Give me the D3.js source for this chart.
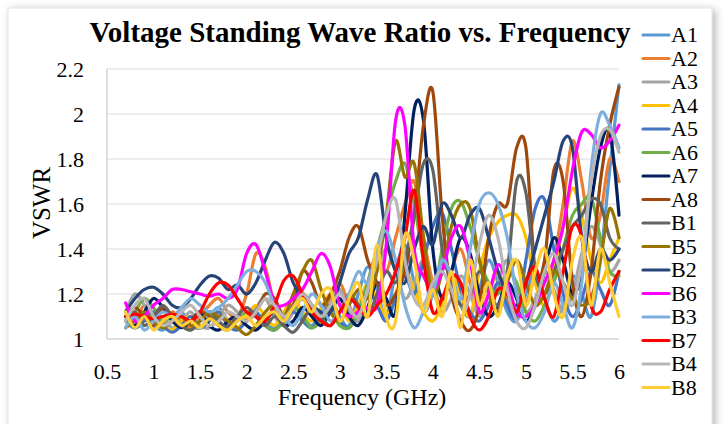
<!DOCTYPE html>
<html><head><meta charset="utf-8">
<script src="https://cdn.jsdelivr.net/npm/d3@7"></script>
<style>
body{margin:0;background:#fff}
svg{display:block}
svg text{font-family:"Liberation Serif","Times New Roman",serif !important;fill:#000}
</style></head>
<body><svg id="c" width="726" height="424"></svg>
<script>
const freq=[0.7,0.8,0.9,1.0,1.1,1.2,1.3,1.4,1.5,1.6,
1.7,1.8,1.9,2.0,2.1,2.2,2.3,2.4,2.5,2.6,
2.7,2.8,2.9,3.0,3.1,3.2,3.3,3.4,3.5,3.6,
3.7,3.8,3.9,4.0,4.1,4.2,4.3,4.4,4.5,4.6,
4.7,4.8,4.9,5.0,5.1,5.2,5.3,5.4,5.5,5.6,
5.7,5.8,5.9,6.0];

const A1=[1.08,1.05,1.10,1.06,1.04,1.08,1.12,1.06,1.05,1.10,
1.14,1.08,1.05,1.09,1.12,1.07,1.05,1.10,1.15,1.10,
1.06,1.12,1.18,1.10,1.06,1.20,1.32,1.22,1.10,1.30,
1.42,1.25,1.12,1.20,1.35,1.28,1.15,1.10,1.22,1.35,
1.25,1.12,1.08,1.20,1.30,1.18,1.08,1.15,1.28,1.20,
1.10,1.35,1.75,2.13];
const A2=[1.12,1.08,1.15,1.10,1.06,1.12,1.08,1.05,1.10,1.15,
1.18,1.12,1.10,1.20,1.38,1.32,1.15,1.08,1.12,1.20,
1.15,1.10,1.18,1.25,1.15,1.10,1.25,1.38,1.30,1.45,
1.60,1.70,1.45,1.25,1.15,1.30,1.40,1.25,1.12,1.20,
1.30,1.18,1.10,1.15,1.28,1.20,1.35,1.60,1.88,1.70,
1.45,1.55,1.80,1.70];
const A3=[1.12,1.20,1.15,1.06,1.10,1.05,1.08,1.12,1.06,1.05,
1.10,1.15,1.12,1.08,1.14,1.18,1.10,1.06,1.12,1.18,
1.12,1.08,1.16,1.22,1.12,1.08,1.20,1.30,1.40,1.30,
1.18,1.25,1.35,1.22,1.12,1.18,1.28,1.20,1.10,1.15,
1.25,1.35,1.22,1.12,1.18,1.30,1.22,1.12,1.20,1.38,
1.50,1.42,1.30,1.35];
const A4=[1.05,1.10,1.08,1.12,1.06,1.04,1.08,1.10,1.06,1.08,
1.12,1.08,1.05,1.10,1.15,1.10,1.06,1.12,1.18,1.12,
1.08,1.14,1.20,1.15,1.08,1.15,1.25,1.18,1.10,1.20,
1.30,1.22,1.12,1.08,1.15,1.28,1.20,1.10,1.30,1.45,
1.52,1.55,1.55,1.45,1.25,1.15,1.30,1.50,1.67,1.55,
1.35,1.25,1.35,1.45];
const A5=[1.10,1.05,1.08,1.12,1.06,1.03,1.06,1.10,1.05,1.08,
1.12,1.06,1.04,1.08,1.12,1.06,1.04,1.08,1.12,1.08,
1.05,1.10,1.15,1.08,1.05,1.12,1.22,1.15,1.08,1.18,
1.28,1.20,1.35,1.50,1.56,1.40,1.22,1.12,1.08,1.15,
1.25,1.15,1.10,1.35,1.58,1.62,1.40,1.20,1.10,1.18,
1.30,1.22,1.15,1.30];
const A6=[1.08,1.12,1.18,1.14,1.08,1.10,1.06,1.04,1.08,1.12,
1.06,1.04,1.08,1.12,1.10,1.06,1.04,1.08,1.14,1.10,
1.05,1.08,1.12,1.06,1.05,1.12,1.25,1.40,1.55,1.70,
1.78,1.60,1.35,1.20,1.40,1.58,1.61,1.50,1.35,1.25,
1.20,1.30,1.25,1.12,1.08,1.15,1.25,1.40,1.55,1.60,
1.63,1.45,1.30,1.28];
const A7=[1.10,1.06,1.12,1.18,1.14,1.08,1.05,1.08,1.12,1.06,
1.04,1.08,1.10,1.06,1.04,1.08,1.12,1.06,1.08,1.14,
1.10,1.06,1.12,1.18,1.10,1.06,1.14,1.25,1.18,1.12,
1.55,2.02,1.97,1.40,1.18,1.30,1.45,1.38,1.20,1.10,
1.15,1.25,1.18,1.08,1.15,1.30,1.45,1.35,1.20,1.30,
1.60,1.85,1.92,1.55];
const A8=[1.10,1.14,1.10,1.06,1.14,1.10,1.06,1.08,1.12,1.10,
1.06,1.05,1.10,1.08,1.12,1.20,1.18,1.10,1.15,1.30,
1.25,1.15,1.20,1.30,1.45,1.50,1.35,1.25,1.15,1.20,
1.30,1.55,1.95,2.10,1.55,1.20,1.08,1.04,1.15,1.45,
1.60,1.60,1.85,1.85,1.30,1.35,1.75,1.70,1.25,1.10,
1.30,1.70,1.95,2.12];
const B1=[1.08,1.12,1.06,1.10,1.15,1.10,1.06,1.04,1.08,1.12,
1.08,1.05,1.10,1.14,1.10,1.06,1.10,1.06,1.03,1.08,
1.14,1.10,1.06,1.12,1.20,1.15,1.10,1.20,1.30,1.25,
1.35,1.55,1.78,1.75,1.40,1.25,1.15,1.20,1.30,1.22,
1.15,1.30,1.70,1.65,1.30,1.20,1.30,1.40,1.50,1.55,
1.62,1.60,1.45,1.40];
const B5=[1.05,1.08,1.12,1.08,1.05,1.08,1.10,1.06,1.08,1.12,
1.10,1.08,1.05,1.02,1.06,1.12,1.15,1.10,1.20,1.30,
1.35,1.22,1.12,1.08,1.15,1.22,1.18,1.30,1.55,1.88,
1.72,1.78,1.45,1.20,1.30,1.50,1.60,1.58,1.35,1.20,
1.12,1.25,1.35,1.25,1.15,1.20,1.30,1.25,1.18,1.15,
1.18,1.35,1.58,1.45];
const B2=[1.12,1.18,1.22,1.23,1.20,1.15,1.14,1.18,1.24,1.28,
1.27,1.22,1.24,1.20,1.25,1.35,1.43,1.38,1.25,1.18,
1.15,1.12,1.12,1.25,1.38,1.45,1.62,1.73,1.45,1.30,
1.25,1.40,1.50,1.42,1.60,1.55,1.45,1.55,1.58,1.45,
1.30,1.20,1.15,1.25,1.40,1.55,1.70,1.88,1.85,1.45,
1.30,1.40,1.35,1.40];
const B6=[1.16,1.08,1.10,1.15,1.18,1.22,1.22,1.21,1.20,1.19,
1.20,1.18,1.22,1.38,1.42,1.30,1.16,1.15,1.18,1.22,
1.30,1.38,1.32,1.15,1.10,1.12,1.14,1.15,1.42,1.97,
1.95,1.40,1.28,1.22,1.30,1.45,1.50,1.35,1.12,1.20,
1.33,1.25,1.12,1.10,1.15,1.25,1.35,1.50,1.75,1.92,
1.91,1.85,1.88,1.95];
const B3=[1.05,1.10,1.04,1.08,1.12,1.10,1.14,1.18,1.15,1.12,
1.14,1.18,1.24,1.30,1.30,1.25,1.15,1.10,1.06,1.12,
1.20,1.15,1.08,1.12,1.20,1.30,1.25,1.40,1.48,1.35,
1.15,1.05,1.12,1.20,1.35,1.28,1.18,1.40,1.60,1.65,
1.60,1.45,1.20,1.08,1.05,1.12,1.25,1.15,1.05,1.25,
1.75,2.00,1.95,1.85];
const B7=[1.10,1.11,1.10,1.09,1.10,1.11,1.10,1.08,1.12,1.20,
1.25,1.24,1.18,1.12,1.10,1.08,1.15,1.26,1.28,1.20,
1.12,1.08,1.06,1.12,1.18,1.14,1.10,1.15,1.20,1.30,
1.45,1.66,1.35,1.12,1.18,1.28,1.25,1.10,1.04,1.10,
1.22,1.20,1.12,1.25,1.32,1.18,1.10,1.30,1.50,1.45,
1.15,1.12,1.22,1.30];
const B4=[1.08,1.15,1.18,1.10,1.06,1.08,1.12,1.15,1.10,1.06,
1.08,1.12,1.10,1.08,1.12,1.18,1.15,1.10,1.14,1.20,
1.15,1.10,1.15,1.20,1.14,1.10,1.22,1.35,1.55,1.62,
1.35,1.18,1.15,1.25,1.30,1.22,1.10,1.20,1.42,1.55,
1.45,1.22,1.08,1.05,1.15,1.30,1.38,1.25,1.15,1.35,
1.70,1.90,1.93,1.83];
const B8=[1.12,1.05,1.10,1.04,1.08,1.10,1.06,1.08,1.05,1.09,
1.06,1.04,1.08,1.10,1.06,1.10,1.12,1.08,1.14,1.18,
1.12,1.20,1.22,1.08,1.18,1.25,1.10,1.42,1.10,1.08,
1.46,1.35,1.12,1.22,1.10,1.30,1.05,1.35,1.15,1.25,
1.10,1.28,1.35,1.15,1.30,1.40,1.20,1.10,1.35,1.45,
1.15,1.40,1.25,1.10];

const seriesNames=["A1","A2","A3","A4","A5","A6","A7","A8","B1","B5","B2","B6","B3","B7","B4","B8"];
const seriesValues=[A1,A2,A3,A4,A5,A6,A7,A8,B1,B5,B2,B6,B3,B7,B4,B8];
const seriesColors=["#5B9BD5","#ED7D31","#A5A5A5","#FFC000","#4472C4","#70AD47","#002060","#9E480E","#636363","#997300","#264478","#FF00FF","#7CAFDD","#FF0000","#B7B7B7","#FFCD33"];
const xTicks=[0.5,1,1.5,2,2.5,3,3.5,4,4.5,5,5.5,6];
const xTickLabels=["0.5","1","1.5","2","2.5","3","3.5","4","4.5","5","5.5","6"];
const yTicks=[1,1.2,1.4,1.6,1.8,2,2.2];
const yTickLabels=["1","1.2","1.4","1.6","1.8","2","2.2"];

const SERIF='"Liberation Serif","Times New Roman",serif';
const svg=d3.select("#c");
const defs=svg.append("defs");
const f=defs.append("filter").attr("id","sh").attr("x","-5%").attr("y","-5%").attr("width","115%").attr("height","115%");
f.append("feDropShadow").attr("dx",3).attr("dy",2).attr("stdDeviation",4).attr("flood-color","#000").attr("flood-opacity",0.3);

svg.append("rect").attr("x",8).attr("y",8).attr("width",704).attr("height",440)
  .attr("fill","#fff").attr("stroke","#d9d9d9").attr("stroke-width",0.75).attr("filter","url(#sh)");

const L=107,R=619,T=69,B=339;
const x=d3.scaleLinear().domain([0.5,6]).range([L,R]);
const y=d3.scaleLinear().domain([1,2.2]).range([B,T]);

svg.append("g").selectAll("line").data(yTicks).join("line")
  .attr("x1",L).attr("x2",R).attr("y1",d=>y(d)).attr("y2",d=>y(d))
  .attr("stroke",(d,i)=>i===0?"#bfbfbf":"#d9d9d9").attr("stroke-width",1);
svg.append("line").attr("x1",L).attr("x2",L).attr("y1",T).attr("y2",B).attr("stroke","#bfbfbf").attr("stroke-width",1);

const yAxis=d3.axisLeft(y).tickValues(yTicks).tickFormat((d,i)=>yTickLabels[i]).tickSize(0).tickPadding(23);
const gy=svg.append("g").attr("transform",`translate(${L},0)`).call(yAxis);
gy.attr("font-family",SERIF).attr("font-size",22);
gy.select(".domain").remove();
gy.selectAll("text").attr("font-family",SERIF).attr("font-size",22);

const xAxis=d3.axisBottom(x).tickValues(xTicks).tickFormat((d,i)=>xTickLabels[i]).tickSize(0).tickPadding(24);
const gx=svg.append("g").attr("transform",`translate(0,${B})`).call(xAxis);
gx.attr("font-family",SERIF).attr("font-size",22);
gx.select(".domain").remove();
gx.selectAll("text").attr("font-family",SERIF).attr("font-size",22);

const line=d3.line().x((d,i)=>x(freq[i])).y(d=>y(d)).curve(d3.curveCardinal.tension(0));
svg.append("g").selectAll("path").data(seriesValues).join("path")
  .attr("d",d=>line(d)).attr("fill","none")
  .attr("stroke",(d,i)=>seriesColors[i]).attr("stroke-width",3.2)
  .attr("stroke-linejoin","round").attr("stroke-linecap","round");

svg.append("text").attr("x",360).attr("y",42).attr("text-anchor","middle").attr("font-family",SERIF)
  .attr("font-size",29).attr("font-weight","bold").text("Voltage Standing Wave Ratio vs. Frequency");
svg.append("text").attr("x",362).attr("y",405).attr("text-anchor","middle").attr("font-family",SERIF).attr("font-size",24).text("Frequency (GHz)");
svg.append("text").attr("transform","translate(50,203) rotate(-90)").attr("text-anchor","middle").attr("font-family",SERIF).attr("font-size",25).text("VSWR");

const lg=svg.append("g").selectAll("g").data(seriesNames).join("g")
  .attr("transform",(d,i)=>`translate(643,${35+i*23.5})`);
lg.append("line").attr("x1",0).attr("x2",26).attr("y1",0).attr("y2",0)
  .attr("stroke",(d,i)=>seriesColors[i]).attr("stroke-width",3.2).attr("stroke-linecap","round");
lg.append("text").attr("x",28).attr("y",0).attr("dy","0.34em").attr("font-family",SERIF).attr("font-size",22).text(d=>d);
</script></body></html>
